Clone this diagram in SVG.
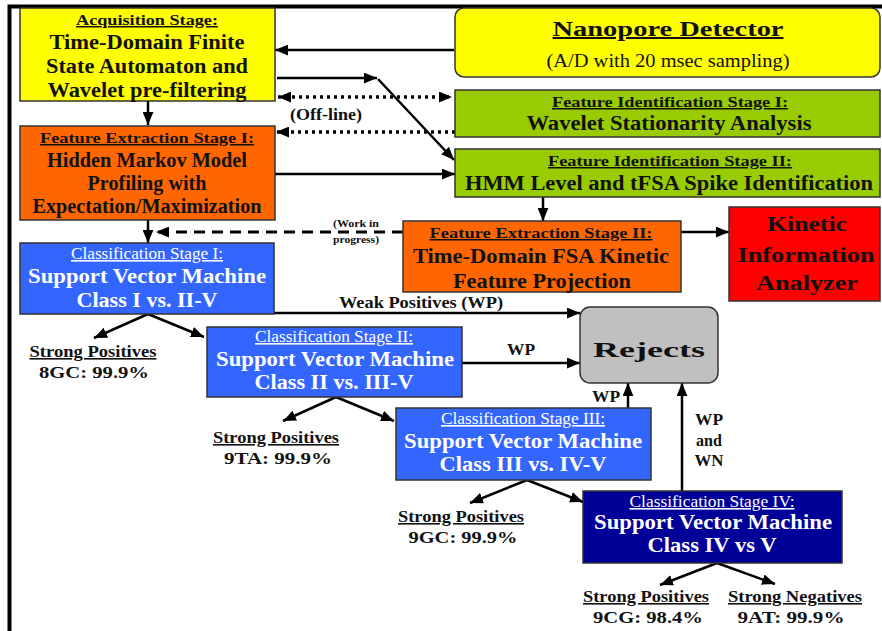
<svg xmlns="http://www.w3.org/2000/svg" width="882" height="631" viewBox="0 0 882 631">
<style>
  text { font-family: "Liberation Serif", "Times New Roman", serif; text-anchor: middle; }
  .box { stroke: #333; stroke-width: 1.5; }
  .yel { fill: #FFFF00; }
  .org { fill: #FF6600; }
  .grn { fill: #99CC00; }
  .red { fill: #FF0000; }
  .blu { fill: #3366FF; }
  .nav { fill: #000099; }
  .gry { fill: #C0C0C0; }
  .hd { font-size: 15px; font-weight: bold; fill: #111; text-decoration: underline; }
  .hdw { font-size: 16px; font-weight: normal; fill: #fff; text-decoration: underline; }
  .bd { font-size: 20px; font-weight: bold; fill: #111; }
  .bdw { font-size: 21px; font-weight: bold; fill: #fff; }
  .lbl { font-size: 16px; font-weight: bold; fill: #111; }
  .ul { text-decoration: underline; }
  .sm { font-size: 11px; font-weight: bold; fill: #111; }
  .ln { fill: none; stroke: #000; stroke-width: 2.5; }
  .arr { marker-end: url(#ah); }
  .dot { fill: none; stroke: #000; stroke-width: 3.5; stroke-dasharray: 3 4; }
  .dash { fill: none; stroke: #000; stroke-width: 3; stroke-dasharray: 11 7; }
</style>
<defs>
  <marker id="ah" viewBox="0 0 12 10" refX="12" refY="5" markerWidth="13" markerHeight="11" markerUnits="userSpaceOnUse" orient="auto-start-reverse">
    <path d="M0,0 L12,5 L0,10 z" fill="#000"/>
  </marker>
</defs>
<rect x="0" y="0" width="882" height="631" fill="#fff"/>
<path d="M9.5,631 L9.5,6.5 L882,6.5" fill="none" stroke="#000" stroke-width="4"/>

<g id="connectors">
  <path class="ln arr" d="M454,50 L275,50"/>
  <path class="ln arr" d="M277,78 L377,78"/>
  <path class="ln arr" d="M378,79 L454,160"/>
  <path class="dot" d="M278,97 L452,97" marker-start="url(#ah)" marker-end="url(#ah)"/>
  <path class="dot arr" d="M455,132 L276,132"/>
  <path class="ln arr" d="M275,174 L455,174"/>
  <path class="ln arr" d="M148,101 L148,125"/>
  <path class="ln arr" d="M148,220 L148,243"/>
  <path class="dash arr" d="M403,232 L156,232"/>
  <path class="ln arr" d="M543,197 L543,221"/>
  <path class="ln arr" d="M681,232 L729,232"/>
  <path class="ln arr" d="M148,314 L94,338"/>
  <path class="ln arr" d="M148,314 L204,337"/>
  <path class="ln arr" d="M274,313 L580,313"/>
  <path class="ln arr" d="M336,397 L283,421"/>
  <path class="ln arr" d="M336,397 L394,421"/>
  <path class="ln arr" d="M462,363 L580,363"/>
  <path class="ln arr" d="M527,480 L470,503"/>
  <path class="ln arr" d="M527,480 L583,502"/>
  <path class="ln arr" d="M628,408 L628,383"/>
  <path class="ln arr" d="M682,491 L682,383"/>
  <path class="ln arr" d="M717,563 L660,585"/>
  <path class="ln arr" d="M717,563 L775,584"/>
  <text class="lbl" x="326" y="120" font-size="15" textLength="72" lengthAdjust="spacingAndGlyphs">(Off-line)</text>
  <text class="sm" x="356" y="227" textLength="46" lengthAdjust="spacingAndGlyphs">(Work in</text>
  <text class="sm" x="356" y="243" textLength="46" lengthAdjust="spacingAndGlyphs">progress)</text>
  <text class="lbl" x="421" y="308" textLength="164" lengthAdjust="spacingAndGlyphs">Weak Positives (WP)</text>
  <text class="lbl" x="521" y="355" textLength="28" lengthAdjust="spacingAndGlyphs">WP</text>
  <text class="lbl" x="606" y="402" textLength="28" lengthAdjust="spacingAndGlyphs">WP</text>
  <text class="lbl" x="709" y="425" textLength="28" lengthAdjust="spacingAndGlyphs">WP</text>
  <text class="lbl" x="709" y="446">and</text>
  <text class="lbl" x="709" y="466" textLength="29" lengthAdjust="spacingAndGlyphs">WN</text>
</g>

<g id="acquisition">
  <rect class="box yel" x="20" y="8" width="255" height="93"/>
  <text class="hd" x="147" y="25" font-size="16" textLength="142" lengthAdjust="spacingAndGlyphs">Acquisition Stage:</text>
  <text class="bd" x="147" y="49" textLength="195" lengthAdjust="spacingAndGlyphs">Time-Domain Finite</text>
  <text class="bd" x="147" y="73" textLength="202" lengthAdjust="spacingAndGlyphs">State Automaton and</text>
  <text class="bd" x="147" y="97" textLength="199" lengthAdjust="spacingAndGlyphs">Wavelet pre-filtering</text>
</g>

<g id="nanopore">
  <rect class="box yel" x="455" y="8" width="425" height="69" rx="9"/>
  <text class="bd ul" x="668" y="36" font-size="28" textLength="231" lengthAdjust="spacingAndGlyphs">Nanopore Detector</text>
  <text x="668" y="67" font-size="19" fill="#111" textLength="243" lengthAdjust="spacingAndGlyphs">(A/D with 20 msec sampling)</text>
</g>

<g id="feat-id-1">
  <rect class="box grn" x="455" y="90" width="425" height="47"/>
  <text class="hd" x="670" y="107" textLength="236" lengthAdjust="spacingAndGlyphs">Feature Identification Stage I:</text>
  <text class="bd" x="669" y="130" textLength="285" lengthAdjust="spacingAndGlyphs">Wavelet Stationarity Analysis</text>
</g>

<g id="feat-id-2">
  <rect class="box grn" x="455" y="149" width="425" height="48"/>
  <text class="hd" x="670" y="166" textLength="244" lengthAdjust="spacingAndGlyphs">Feature Identification Stage II:</text>
  <text class="bd" x="669" y="190" textLength="408" lengthAdjust="spacingAndGlyphs">HMM Level and tFSA Spike Identification</text>
</g>

<g id="feat-ext-1">
  <rect class="box org" x="20" y="126" width="255" height="94"/>
  <text class="hd" x="147" y="143" textLength="214" lengthAdjust="spacingAndGlyphs">Feature Extraction Stage I:</text>
  <text class="bd" x="147" y="167" textLength="200" lengthAdjust="spacingAndGlyphs">Hidden Markov Model</text>
  <text class="bd" x="147" y="190" textLength="119" lengthAdjust="spacingAndGlyphs">Profiling with</text>
  <text class="bd" x="147" y="213" textLength="229" lengthAdjust="spacingAndGlyphs">Expectation/Maximization</text>
</g>

<g id="feat-ext-2">
  <rect class="box org" x="403" y="221" width="278" height="71"/>
  <text class="hd" x="541" y="238" textLength="223" lengthAdjust="spacingAndGlyphs">Feature Extraction Stage II:</text>
  <text class="bd" x="541" y="263" textLength="256" lengthAdjust="spacingAndGlyphs">Time-Domain FSA Kinetic</text>
  <text class="bd" x="542" y="288" textLength="178" lengthAdjust="spacingAndGlyphs">Feature Projection</text>
</g>

<g id="kinetic">
  <rect class="box red" x="729" y="207" width="151" height="94"/>
  <text class="bd" x="807" y="231" font-size="24" textLength="80" lengthAdjust="spacingAndGlyphs">Kinetic</text>
  <text class="bd" x="806" y="262" font-size="24" textLength="137" lengthAdjust="spacingAndGlyphs">Information</text>
  <text class="bd" x="807" y="290" font-size="24" textLength="102" lengthAdjust="spacingAndGlyphs">Analyzer</text>
</g>

<g id="class-1">
  <rect class="box blu" x="20" y="243" width="254" height="71"/>
  <text class="hdw" x="147" y="259" textLength="152" lengthAdjust="spacingAndGlyphs">Classification Stage I:</text>
  <text class="bdw" x="147" y="283" textLength="238" lengthAdjust="spacingAndGlyphs">Support Vector Machine</text>
  <text class="bdw" x="147" y="307" textLength="141" lengthAdjust="spacingAndGlyphs">Class I vs. II-V</text>
</g>

<g id="class-2">
  <rect class="box blu" x="207" y="327" width="255" height="70"/>
  <text class="hdw" x="334" y="342" textLength="158" lengthAdjust="spacingAndGlyphs">Classification Stage II:</text>
  <text class="bdw" x="335" y="366" textLength="238" lengthAdjust="spacingAndGlyphs">Support Vector Machine</text>
  <text class="bdw" x="334" y="389" textLength="159" lengthAdjust="spacingAndGlyphs">Class II vs. III-V</text>
</g>

<g id="class-3">
  <rect class="box blu" x="396" y="408" width="255" height="72"/>
  <text class="hdw" x="523" y="424" textLength="164" lengthAdjust="spacingAndGlyphs">Classification Stage III:</text>
  <text class="bdw" x="523" y="448" textLength="238" lengthAdjust="spacingAndGlyphs">Support Vector Machine</text>
  <text class="bdw" x="523" y="471" textLength="167" lengthAdjust="spacingAndGlyphs">Class III vs. IV-V</text>
</g>

<g id="class-4">
  <rect class="box nav" x="583" y="491" width="259" height="72"/>
  <text class="hdw" x="712" y="507" textLength="165" lengthAdjust="spacingAndGlyphs">Classification Stage IV:</text>
  <text class="bdw" x="713" y="529" textLength="238" lengthAdjust="spacingAndGlyphs">Support Vector Machine</text>
  <text class="bdw" x="712" y="552" textLength="129" lengthAdjust="spacingAndGlyphs">Class IV vs V</text>
</g>

<g id="rejects">
  <rect class="box gry" x="580" y="307" width="138" height="76" rx="10"/>
  <text class="bd" x="649" y="357" font-size="41" textLength="112" lengthAdjust="spacingAndGlyphs">Rejects</text>
</g>

<g id="result-8gc">
  <text class="lbl ul" x="93" y="357" textLength="127" lengthAdjust="spacingAndGlyphs">Strong Positives</text>
  <text class="lbl" x="94" y="378" font-size="20" textLength="110" lengthAdjust="spacingAndGlyphs">8GC: 99.9%</text>
</g>
<g id="result-9ta">
  <text class="lbl ul" x="276" y="443" textLength="126" lengthAdjust="spacingAndGlyphs">Strong Positives</text>
  <text class="lbl" x="278" y="464" font-size="20" textLength="108" lengthAdjust="spacingAndGlyphs">9TA: 99.9%</text>
</g>
<g id="result-9gc">
  <text class="lbl ul" x="461" y="522" textLength="126" lengthAdjust="spacingAndGlyphs">Strong Positives</text>
  <text class="lbl" x="463" y="543" font-size="20" textLength="109" lengthAdjust="spacingAndGlyphs">9GC: 99.9%</text>
</g>
<g id="result-9cg">
  <text class="lbl ul" x="646" y="602" textLength="126" lengthAdjust="spacingAndGlyphs">Strong Positives</text>
  <text class="lbl" x="648" y="623" font-size="20" textLength="110" lengthAdjust="spacingAndGlyphs">9CG: 98.4%</text>
</g>
<g id="result-9at">
  <text class="lbl ul" x="795" y="602" textLength="134" lengthAdjust="spacingAndGlyphs">Strong Negatives</text>
  <text class="lbl" x="791" y="623" font-size="20" textLength="107" lengthAdjust="spacingAndGlyphs">9AT: 99.9%</text>
</g>
</svg>
